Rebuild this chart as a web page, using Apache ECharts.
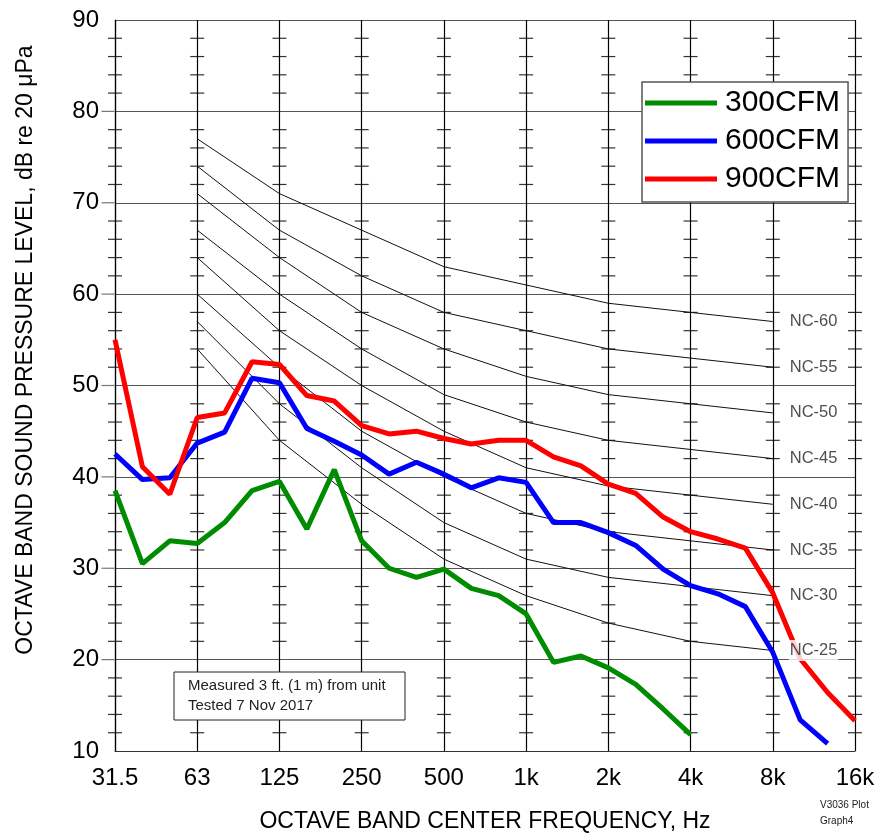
<!DOCTYPE html>
<html>
<head>
<meta charset="utf-8">
<script src="https://cdn.jsdelivr.net/npm/echarts@6/dist/echarts.min.js"></script>
<style>
html,body{margin:0;padding:0;background:#fff;}
#chart{width:882px;height:834px;}
</style>
</head>
<body>
<div id="chart"></div>
<script>
// Octave-band tick labels (x axis)
const octaveLabels = ['31.5','63','125','250','500','1k','2k','4k','8k','16k'];
// One-third octave band centre frequencies for the measured data
const bandLabels = ['31.5','40','50','63','80','100','125','160','200','250','315','400','500','630','800','1k','1.25k','1.6k','2k','2.5k','3.15k','4k','5k','6.3k','8k','10k','12.5k','16k'];
// Measured sound pressure levels, dB
const cfm300 = [38.5,30.5,33.0,32.7,35.0,38.5,39.5,34.3,40.8,33.0,30.0,29.0,29.9,27.8,27.0,25.0,19.7,20.4,19.1,17.3,14.6,11.8];
const cfm600 = [42.5,39.7,39.9,43.7,44.9,50.8,50.3,45.3,43.9,42.4,40.3,41.6,40.3,38.8,39.9,39.4,35.0,35.0,33.9,32.5,29.9,28.1,27.2,25.8,20.8,13.4,10.8];
const cfm900 = [55.0,41.1,38.1,46.5,47.0,52.6,52.3,48.9,48.3,45.6,44.7,45.0,44.2,43.6,44.0,44.0,42.2,41.2,39.2,38.2,35.6,34.0,33.2,32.2,27.3,20.1,16.4,13.3];
// NC reference curves at octave bands 63 Hz .. 8 kHz
const ncBands = ['63','125','250','500','1k','2k','4k','8k'];
const ncNames = ['NC-60','NC-55','NC-50','NC-45','NC-40','NC-35','NC-30','NC-25'];
const nc60 = [77,71,67,63,61,59,58,57];
const nc55 = [74,67,62,58,56,54,53,52];
const nc50 = [71,64,58,54,51,49,48,47];
const nc45 = [67,60,54,49,46,44,43,42];
const nc40 = [64,56,50,45,41,39,38,37];
const nc35 = [60,52,45,40,36,34,33,32];
const nc30 = [57,48,41,35,31,29,28,27];
const nc25 = [54,44,37,31,27,24,22,21];
const ncCurves = [nc60,nc55,nc50,nc45,nc40,nc35,nc30,nc25];
// y ticks
const yMajor = [10,20,30,40,50,60,70,80,90];
const yMinorStep = 2;

const FONT = "'Liberation Sans', Arial, sans-serif";

function bandPos(label){ return bandLabels.indexOf(label)/3; }
function octPos(label){ return octaveLabels.indexOf(label); }
function bandSeries(vals){ return vals.map((v,i)=>[bandPos(bandLabels[i]), v]); }

// grid decoration: minor ticks crossing each vertical grid line
const minorTicks = [];
for (let o=0;o<octaveLabels.length;o++){
  for (let v=yMajor[0]; v<=yMajor[yMajor.length-1]; v+=yMinorStep){
    if (v % 10 !== 0) minorTicks.push([o, v]);
  }
}
const majorTicks = yMajor.filter(v=>v!==10 && v!==90).map(v=>[0,v]);

const ncSeries = ncCurves.map((c,k)=>({
  name: ncNames[k], type:'line', silent:true, symbol:'none', z:2,
  lineStyle:{color:'#111', width:1},
  data: c.map((v,i)=>[octPos(ncBands[i]), v])
}));
const ncLabelSeries = {
  type:'scatter', silent:true, symbolSize:0, z:10, clip:false,
  data: ncCurves.map((c,k)=>({value:[octPos(ncBands[ncBands.length-1]), c[c.length-1]], name:ncNames[k]})),
  label:{show:true, position:'right', distance:16, formatter:p=>p.name,
    color:'#222', fontSize:16.5, fontFamily:FONT, backgroundColor:'#fff', padding:[2,1]}
};

const chart = echarts.init(document.getElementById('chart'), null, {renderer:'canvas'});
chart.setOption({
  animation:false,
  backgroundColor:'#fff',
  grid:{left:115, right:27, top:20, bottom:83},
  xAxis:{type:'value', min:0, max:9, interval:1,
    axisLine:{lineStyle:{color:'#333', width:1.2}},
    axisTick:{show:false},
    splitLine:{show:true, lineStyle:{color:'#000', width:1.2}},
    axisLabel:{formatter:v=>octaveLabels[Math.round(v)], fontSize:24, color:'#000', fontFamily:FONT, margin:15}
  },
  yAxis:{type:'value', min:10, max:90, interval:10,
    axisLine:{show:true, lineStyle:{color:'#000', width:1.2}},
    axisTick:{show:false},
    splitLine:{show:true, lineStyle:{color:'#555', width:1.2}},
    axisLabel:{fontSize:24, color:'#000', fontFamily:FONT, margin:16, padding:[0,0,4,0]}
  },
  legend:{
    data:['300CFM','600CFM','900CFM'], orient:'vertical', left:642, top:82,
    icon:'rect', itemWidth:72, itemHeight:5, itemGap:4,
    padding:[4,8,6,3], backgroundColor:'#fff', borderColor:'#555', borderWidth:1.5,
    textStyle:{fontSize:30, color:'#000', fontFamily:FONT, lineHeight:34, padding:[0,0,0,3]}
  },
  series:[
    {type:'scatter', silent:true, symbol:'rect', symbolSize:[14,1.2], z:1, clip:false,
      itemStyle:{color:'#000'}, data:minorTicks},
    {type:'scatter', silent:true, symbol:'rect', symbolSize:[13,1.2], symbolOffset:[-7,0], z:1, clip:false,
      itemStyle:{color:'#555'}, data:majorTicks},
    ...ncSeries,
    {name:'300CFM', type:'line', symbol:'none', z:5, color:'#008c00', lineStyle:{width:5, color:'#008c00'}, data:bandSeries(cfm300)},
    {name:'600CFM', type:'line', symbol:'none', z:5, color:'#0000ff', lineStyle:{width:5, color:'#0000ff'}, data:bandSeries(cfm600)},
    {name:'900CFM', type:'line', symbol:'none', z:5, color:'#ff0000', lineStyle:{width:5, color:'#ff0000'}, data:bandSeries(cfm900)},
    ncLabelSeries
  ],
  graphic:[
    {type:'text', x:26, y:350, rotation:Math.PI/2, z:20,
      style:{text:'OCTAVE BAND SOUND PRESSURE LEVEL, dB re 20 \u03bcPa', font:'23px '+FONT, fill:'#000', align:'center', verticalAlign:'middle'}},
    {type:'text', x:485, y:822, z:20,
      style:{text:'OCTAVE BAND CENTER FREQUENCY, Hz', font:'23px '+FONT, fill:'#000', align:'center', verticalAlign:'middle'}},
    {type:'text', x:820, y:805, z:20,
      style:{text:'V3036 Plot', font:'10px '+FONT, fill:'#222', align:'left', verticalAlign:'middle'}},
    {type:'text', x:820, y:821, z:20,
      style:{text:'Graph4', font:'10px '+FONT, fill:'#222', align:'left', verticalAlign:'middle'}},
    {type:'rect', z:20, shape:{x:174, y:672, width:231, height:48},
      style:{fill:'#fff', stroke:'#222', lineWidth:1}},
    {type:'text', x:188, y:686, z:21,
      style:{text:'Measured 3 ft. (1 m) from unit', font:'15px '+FONT, fill:'#222', align:'left', verticalAlign:'middle'}},
    {type:'text', x:188, y:706, z:21,
      style:{text:'Tested 7 Nov 2017', font:'15px '+FONT, fill:'#222', align:'left', verticalAlign:'middle'}}
  ]
});
</script>
</body>
</html>
